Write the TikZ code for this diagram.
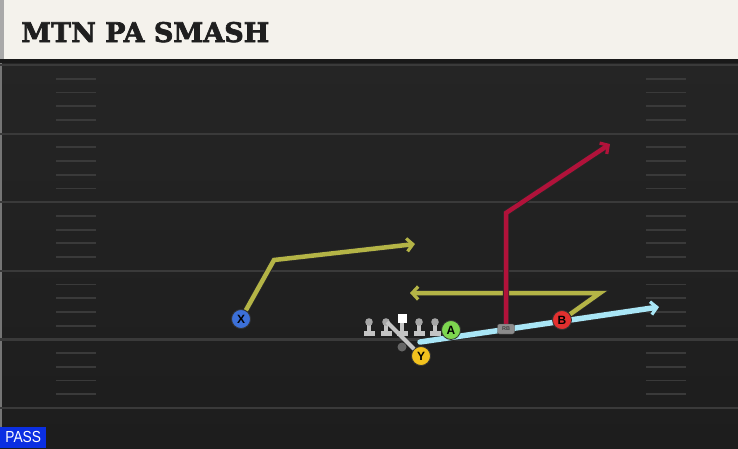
\documentclass[tikz,border=0pt]{standalone}
\usepackage{fontspec}
\setsansfont{Liberation Sans}
\newfontfamily\titlefont{DejaVu Serif}[BoldFeatures={FakeBold=2.5}]
\usepackage{xcolor}
\usetikzlibrary{arrows.meta,positioning}

\definecolor{fieldgray}{HTML}{252525}
\definecolor{fielddark}{HTML}{1D1D1D}
\definecolor{yardgray}{HTML}{3A3A3A}
\definecolor{headercream}{HTML}{F4F2EC}
\definecolor{stripgray}{HTML}{A9A9A9}
\definecolor{routeolive}{HTML}{B4B446}
\definecolor{routered}{HTML}{B1123A}
\definecolor{routeblue}{HTML}{A9E6F6}
\definecolor{xblue}{HTML}{3C70D8}
\definecolor{yyellow}{HTML}{F2C21E}
\definecolor{agreen}{HTML}{7DD64F}
\definecolor{bred}{HTML}{E2302F}
\definecolor{passblue}{HTML}{0B2FE2}
\definecolor{linegray}{HTML}{C4C4C4}
\definecolor{headgray}{HTML}{A6A6A6}
\definecolor{rbgray}{HTML}{8C8C8C}

\pgfdeclarelayer{field}
\pgfdeclarelayer{routes}
\pgfsetlayers{field,routes,main}

\begin{document}
\begin{tikzpicture}[x=1pt,y=-1pt,
	route/.style={line width=4.5pt,preaction={draw=black!85,line width=6.3pt},-{Straight Barb[length=6pt,width=13pt,line width=3.2pt]}},
	player/.style={circle,draw=black!80,line width=0.8pt,minimum size=19pt,inner sep=0pt,font=\sffamily\bfseries\fontsize{12}{12}\selectfont},
	blocker/.pic={
		\fill[linegray] (-2.2,0) rectangle (2.2,12);
		\fill[linegray] (-5.5,8.5) rectangle (5.5,14);
		\fill[headgray] (0,0) circle (3.8);
	},
	snapper/.pic={
		\fill[linegray] (-2.2,0) rectangle (2.2,12);
		\fill[linegray] (-5.5,8.5) rectangle (5.5,14);
		\fill[white] (-4.5,-8.5) rectangle (4.5,0.5);
	}]
	\useasboundingbox (0,0) rectangle (738,448);
	\begin{pgfonlayer}{field}
	\shade[top color=fieldgray,bottom color=fielddark] (0,59) rectangle (738,448);
	\fill[headercream] (0,0) rectangle (738,59);
	\fill[stripgray] (0,0) rectangle (4,59);
	\fill[black!90] (0,59) rectangle (738,63);
	\fill[yardgray!70] (0,63) rectangle (2,448);
	\foreach \k in {0,...,5}
		\draw[yardgray,line width=2.2pt] (0,65+68.6*\k) -- (738,65+68.6*\k);
	\foreach \j in {1,...,24}{
		\pgfmathtruncatemacro{\r}{mod(\j,5)}
		\ifnum\r>0
			\draw[yardgray,line width=1.8pt] (56,65+13.72*\j) -- (96,65+13.72*\j);
			\draw[yardgray,line width=1.8pt] (646,65+13.72*\j) -- (686,65+13.72*\j);
		\fi
	}
	\end{pgfonlayer}
	\node[anchor=base west,inner sep=0pt,text=black!88,font=\titlefont\bfseries\fontsize{27}{27}\selectfont] (title) at (21,42) {MTN PA SMASH};
	\node[anchor=south west,fill=passblue,text=white,minimum width=46pt,minimum height=21pt,inner sep=0pt,font=\sffamily\fontsize{16}{16}\selectfont] (passtag) at (0,448) {\scalebox{0.86}[1]{PASS}};

	\coordinate (xbreak) at (274,260);
	\coordinate (xend) at (415,244);
	\coordinate (bbreak) at (600,293);
	\coordinate (bend) at (410,293);
	\coordinate (rbbreak) at (506,213);
	\coordinate (rbend) at (610,144);
	\coordinate (flatstart) at (420,342);
	\coordinate (flatend) at (659,307);
	\coordinate (ymotion) at (387,322);

	\pic at (369,322) {blocker};
	\pic at (386,322) {blocker};
	\pic at (402,322) {snapper};
	\pic at (419,322) {blocker};
	\pic at (435,322) {blocker};
	\fill[black!60] (402,347) circle (4.5);

	\node[draw=black!70,fill=rbgray,rounded corners=2pt,minimum width=17pt,minimum height=10pt,inner sep=0pt,text=black!75,font=\sffamily\bfseries\fontsize{5.5}{5.5}\selectfont] (rb) at (506,329) {RB};
	\node[player,fill=xblue] (xrec) at (241,319) {X};
	\node[player,fill=yyellow] (yrec) at (421,356) {Y};
	\node[player,fill=agreen] (arec) at (451,330) {A};
	\node[player,fill=bred] (brec) at (562,320) {B};

	\begin{pgfonlayer}{routes}
	\draw[route,routeolive] (xrec) -- (xbreak) -- (xend);
	\draw[route,routeolive] (brec) -- (bbreak) -- (bend);
	\draw[route,routered] (rb) -- (rbbreak) -- (rbend);
	\draw[route,routeblue,line width=5.5pt,line cap=round,preaction={draw=black!85,line width=7pt}] (flatstart) -- (flatend);
	\end{pgfonlayer}
	\draw[linegray,line width=4pt] (ymotion) -- (yrec);
\end{tikzpicture}
\end{document}
